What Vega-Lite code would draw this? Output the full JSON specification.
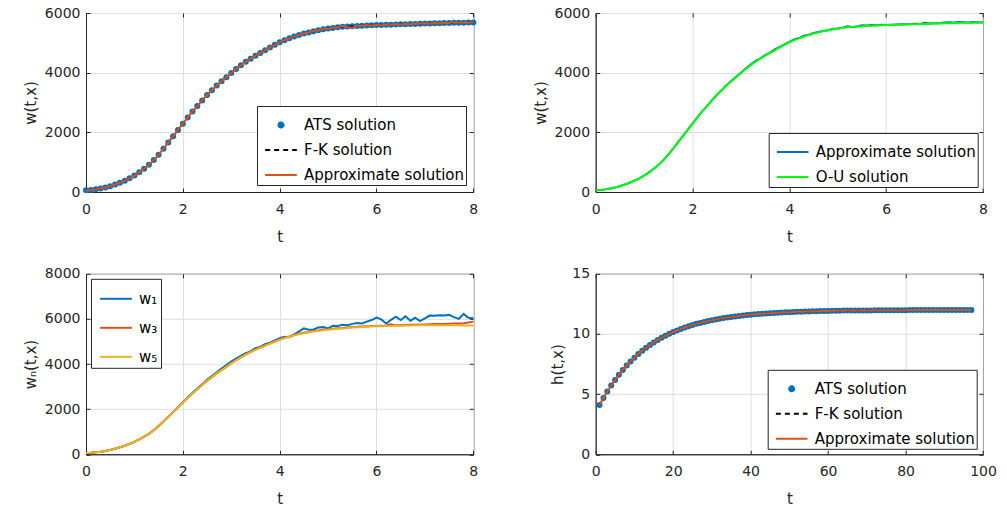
{
"$schema": "https://vega.github.io/schema/vega-lite/v6.json",
"padding": {"left": 22, "top": 5, "right": 5, "bottom": 5},
"background": "white",
"config": {
  "font": "DejaVu Sans",
  "view": {"stroke": "#262626", "strokeWidth": 1},
  "axis": {"domainColor": "#262626", "tickColor": "#262626", "labelColor": "#262626", "titleColor": "#262626", "gridColor": "#dfdfdf", "labelFont": "DejaVu Sans", "labelFontSize": 14, "titleFont": "DejaVu Sans", "titleFontSize": 15, "titleFontWeight": "normal", "tickSize": -4, "labelFlush": false, "labelOverlap": false},
  "axisX": {"labelPadding": 14, "titlePadding": 13},
  "axisY": {"labelPadding": 10, "titlePadding": 6},
  "legend": {"labelFont": "DejaVu Sans", "labelFontSize": 15, "labelColor": "#000000", "strokeColor": "#262626", "fillColor": "white", "padding": 2, "cornerRadius": 0, "symbolSize": 300, "symbolOffset": 5, "labelOffset": 6, "rowPadding": -2, "title": null, "labelLimit": 400}
},
"datasets": {
"w": [
{"t":0,"b":55,"ap":55,"a2":55,"w1":55,"w3":55,"w5":55},
{"t":0.1,"b":68,"ap":68,"a2":68,"w1":68,"w3":68,"w5":68},
{"t":0.2,"b":88,"ap":88,"a2":88,"w1":88,"w3":88,"w5":88},
{"t":0.3,"b":115,"ap":115,"a2":115,"w1":115,"w3":115,"w5":115},
{"t":0.4,"b":150,"ap":150,"a2":150,"w1":150,"w3":150,"w5":150},
{"t":0.5,"b":195,"ap":195,"a2":195,"w1":195,"w3":195,"w5":195},
{"t":0.6,"b":250,"ap":250,"a2":250,"w1":250,"w3":250,"w5":250},
{"t":0.7,"b":310,"ap":310,"a2":310,"w1":310,"w3":310,"w5":310},
{"t":0.8,"b":380,"ap":380,"a2":380,"w1":380,"w3":380,"w5":380},
{"t":0.9,"b":460,"ap":460,"a2":460,"w1":460,"w3":460,"w5":460},
{"t":1.0,"b":550,"ap":550,"a2":550,"w1":550,"w3":550,"w5":550},
{"t":1.1,"b":660,"ap":660,"a2":660,"w1":660,"w3":660,"w5":660},
{"t":1.2,"b":780,"ap":780,"a2":780,"w1":780,"w3":780,"w5":780},
{"t":1.3,"b":910,"ap":910,"a2":910,"w1":910,"w3":910,"w5":910},
{"t":1.4,"b":1070,"ap":1070,"a2":1070,"w1":1070,"w3":1070,"w5":1070},
{"t":1.5,"b":1250,"ap":1250,"a2":1250,"w1":1250,"w3":1250,"w5":1250},
{"t":1.6,"b":1450,"ap":1450,"a2":1450,"w1":1450,"w3":1450,"w5":1450},
{"t":1.7,"b":1660,"ap":1660,"a2":1660,"w1":1660,"w3":1660,"w5":1660},
{"t":1.8,"b":1870,"ap":1870,"a2":1870,"w1":1870,"w3":1870,"w5":1870},
{"t":1.9,"b":2080,"ap":2080,"a2":2080,"w1":2080,"w3":2080,"w5":2080},
{"t":2.0,"b":2290,"ap":2290,"a2":2290,"w1":2300,"w3":2290,"w5":2290},
{"t":2.1,"b":2500,"ap":2500,"a2":2500,"w1":2520,"w3":2500,"w5":2500},
{"t":2.2,"b":2700,"ap":2700,"a2":2700,"w1":2730,"w3":2700,"w5":2700},
{"t":2.3,"b":2880,"ap":2880,"a2":2880,"w1":2920,"w3":2885,"w5":2885},
{"t":2.4,"b":3070,"ap":3070,"a2":3070,"w1":3110,"w3":3075,"w5":3075},
{"t":2.5,"b":3250,"ap":3250,"a2":3250,"w1":3300,"w3":3255,"w5":3255},
{"t":2.6,"b":3410,"ap":3410,"a2":3410,"w1":3470,"w3":3420,"w5":3420},
{"t":2.7,"b":3570,"ap":3570,"a2":3575,"w1":3640,"w3":3585,"w5":3585},
{"t":2.8,"b":3710,"ap":3710,"a2":3720,"w1":3800,"w3":3730,"w5":3730},
{"t":2.9,"b":3850,"ap":3850,"a2":3860,"w1":3960,"w3":3875,"w5":3875},
{"t":3.0,"b":3990,"ap":3990,"a2":4000,"w1":4110,"w3":4035,"w5":4030},
{"t":3.1,"b":4120,"ap":4120,"a2":4140,"w1":4240,"w3":4175,"w5":4165},
{"t":3.2,"b":4250,"ap":4250,"a2":4270,"w1":4360,"w3":4300,"w5":4295},
{"t":3.3,"b":4370,"ap":4370,"a2":4400,"w1":4480,"w3":4430,"w5":4420},
{"t":3.4,"b":4470,"ap":4470,"a2":4480,"w1":4560,"w3":4535,"w5":4525},
{"t":3.5,"b":4570,"ap":4570,"a2":4590,"w1":4700,"w3":4640,"w5":4630},
{"t":3.6,"b":4660,"ap":4660,"a2":4670,"w1":4760,"w3":4735,"w5":4720},
{"t":3.7,"b":4750,"ap":4750,"a2":4780,"w1":4880,"w3":4820,"w5":4810},
{"t":3.8,"b":4845,"ap":4845,"a2":4860,"w1":4950,"w3":4915,"w5":4900},
{"t":3.9,"b":4935,"ap":4935,"a2":4950,"w1":5050,"w3":5000,"w5":4990},
{"t":4.0,"b":5020,"ap":5020,"a2":5030,"w1":5150,"w3":5090,"w5":5080},
{"t":4.1,"b":5090,"ap":5090,"a2":5110,"w1":5210,"w3":5165,"w5":5150},
{"t":4.2,"b":5150,"ap":5150,"a2":5160,"w1":5190,"w3":5220,"w5":5210},
{"t":4.3,"b":5210,"ap":5210,"a2":5235,"w1":5310,"w3":5290,"w5":5270},
{"t":4.4,"b":5265,"ap":5265,"a2":5270,"w1":5450,"w3":5340,"w5":5325},
{"t":4.5,"b":5310,"ap":5315,"a2":5330,"w1":5580,"w3":5390,"w5":5370},
{"t":4.6,"b":5350,"ap":5345,"a2":5360,"w1":5520,"w3":5420,"w5":5405},
{"t":4.7,"b":5390,"ap":5400,"a2":5400,"w1":5530,"w3":5470,"w5":5440},
{"t":4.8,"b":5425,"ap":5420,"a2":5420,"w1":5620,"w3":5490,"w5":5470},
{"t":4.9,"b":5455,"ap":5465,"a2":5470,"w1":5640,"w3":5530,"w5":5495},
{"t":5.0,"b":5480,"ap":5475,"a2":5480,"w1":5580,"w3":5545,"w5":5520},
{"t":5.1,"b":5500,"ap":5510,"a2":5510,"w1":5700,"w3":5570,"w5":5540},
{"t":5.2,"b":5520,"ap":5505,"a2":5555,"w1":5690,"w3":5585,"w5":5560},
{"t":5.3,"b":5535,"ap":5570,"a2":5530,"w1":5740,"w3":5600,"w5":5580},
{"t":5.4,"b":5550,"ap":5530,"a2":5545,"w1":5720,"w3":5625,"w5":5600},
{"t":5.5,"b":5560,"ap":5500,"a2":5590,"w1":5780,"w3":5640,"w5":5615},
{"t":5.6,"b":5568,"ap":5575,"a2":5580,"w1":5820,"w3":5650,"w5":5630},
{"t":5.7,"b":5576,"ap":5565,"a2":5600,"w1":5800,"w3":5665,"w5":5642},
{"t":5.8,"b":5583,"ap":5590,"a2":5590,"w1":5880,"w3":5670,"w5":5652},
{"t":5.9,"b":5589,"ap":5580,"a2":5605,"w1":5950,"w3":5690,"w5":5662},
{"t":6.0,"b":5595,"ap":5600,"a2":5600,"w1":6060,"w3":5690,"w5":5670},
{"t":6.1,"b":5600,"ap":5590,"a2":5610,"w1":5980,"w3":5700,"w5":5678},
{"t":6.2,"b":5605,"ap":5615,"a2":5615,"w1":5800,"w3":5710,"w5":5685},
{"t":6.3,"b":5610,"ap":5605,"a2":5620,"w1":5960,"w3":5760,"w5":5690},
{"t":6.4,"b":5615,"ap":5625,"a2":5625,"w1":6100,"w3":5715,"w5":5695},
{"t":6.5,"b":5620,"ap":5615,"a2":5630,"w1":5950,"w3":5725,"w5":5700},
{"t":6.6,"b":5625,"ap":5640,"a2":5640,"w1":6120,"w3":5735,"w5":5705},
{"t":6.7,"b":5630,"ap":5625,"a2":5635,"w1":5920,"w3":5740,"w5":5710},
{"t":6.8,"b":5635,"ap":5650,"a2":5670,"w1":6050,"w3":5745,"w5":5715},
{"t":6.9,"b":5640,"ap":5640,"a2":5650,"w1":5900,"w3":5750,"w5":5718},
{"t":7.0,"b":5645,"ap":5655,"a2":5660,"w1":6020,"w3":5755,"w5":5722},
{"t":7.1,"b":5649,"ap":5640,"a2":5655,"w1":6150,"w3":5765,"w5":5725},
{"t":7.2,"b":5653,"ap":5665,"a2":5680,"w1":6140,"w3":5770,"w5":5725},
{"t":7.3,"b":5657,"ap":5660,"a2":5690,"w1":6160,"w3":5775,"w5":5722},
{"t":7.4,"b":5661,"ap":5675,"a2":5680,"w1":6150,"w3":5780,"w5":5720},
{"t":7.5,"b":5665,"ap":5665,"a2":5700,"w1":6180,"w3":5790,"w5":5718},
{"t":7.6,"b":5669,"ap":5690,"a2":5690,"w1":6080,"w3":5800,"w5":5716},
{"t":7.7,"b":5673,"ap":5670,"a2":5680,"w1":6000,"w3":5795,"w5":5715},
{"t":7.8,"b":5677,"ap":5680,"a2":5695,"w1":6220,"w3":5810,"w5":5714},
{"t":7.9,"b":5681,"ap":5675,"a2":5685,"w1":6050,"w3":5840,"w5":5713},
{"t":8.0,"b":5685,"ap":5690,"a2":5690,"w1":6030,"w3":5880,"w5":5712}
],
"h": [
{"t":1,"h":4.10},{"t":2,"h":4.68},{"t":3,"h":5.22},{"t":4,"h":5.72},{"t":5,"h":6.18},{"t":6,"h":6.61},{"t":7,"h":7.01},{"t":8,"h":7.38},{"t":9,"h":7.72},{"t":10,"h":8.03},
{"t":11,"h":8.33},{"t":12,"h":8.60},{"t":13,"h":8.85},{"t":14,"h":9.08},{"t":15,"h":9.30},{"t":16,"h":9.50},{"t":17,"h":9.68},{"t":18,"h":9.85},{"t":19,"h":10.01},{"t":20,"h":10.16},
{"t":21,"h":10.29},{"t":22,"h":10.42},{"t":23,"h":10.54},{"t":24,"h":10.64},{"t":25,"h":10.74},{"t":26,"h":10.84},{"t":27,"h":10.92},{"t":28,"h":11.00},{"t":29,"h":11.07},{"t":30,"h":11.14},
{"t":31,"h":11.21},{"t":32,"h":11.26},{"t":33,"h":11.32},{"t":34,"h":11.37},{"t":35,"h":11.42},{"t":36,"h":11.46},{"t":37,"h":11.50},{"t":38,"h":11.54},{"t":39,"h":11.57},{"t":40,"h":11.60},
{"t":41,"h":11.63},{"t":42,"h":11.66},{"t":43,"h":11.68},{"t":44,"h":11.71},{"t":45,"h":11.73},{"t":46,"h":11.75},{"t":47,"h":11.77},{"t":48,"h":11.78},{"t":49,"h":11.80},{"t":50,"h":11.81},
{"t":51,"h":11.83},{"t":52,"h":11.84},{"t":53,"h":11.85},{"t":54,"h":11.86},{"t":55,"h":11.87},{"t":56,"h":11.88},{"t":57,"h":11.89},{"t":58,"h":11.90},{"t":59,"h":11.91},{"t":60,"h":11.91},
{"t":61,"h":11.92},{"t":62,"h":11.93},{"t":63,"h":11.93},{"t":64,"h":11.94},{"t":65,"h":11.94},{"t":66,"h":11.95},{"t":67,"h":11.95},{"t":68,"h":11.95},{"t":69,"h":11.96},{"t":70,"h":11.96},
{"t":71,"h":11.96},{"t":72,"h":11.97},{"t":73,"h":11.97},{"t":74,"h":11.97},{"t":75,"h":11.97},{"t":76,"h":11.98},{"t":77,"h":11.98},{"t":78,"h":11.98},{"t":79,"h":11.98},{"t":80,"h":11.98},
{"t":81,"h":11.99},{"t":82,"h":11.99},{"t":83,"h":11.99},{"t":84,"h":11.99},{"t":85,"h":11.99},{"t":86,"h":11.99},{"t":87,"h":11.99},{"t":88,"h":11.99},{"t":89,"h":12.00},{"t":90,"h":12.00},
{"t":91,"h":12.00},{"t":92,"h":12.00},{"t":93,"h":12.00},{"t":94,"h":12.00},{"t":95,"h":12.00},{"t":96,"h":12.00},{"t":97,"h":12.00}
]
},
"columns": 2,
"spacing": {"row": 81.8, "column": 121.7},
"bounds": "flush",
"resolve": {"scale": {"color": "independent"}, "legend": {"color": "independent"}},
"concat": [
 {"width": 387.3, "height": 179, "data": {"name": "w"},
  "resolve": {"axis": {"x": "independent", "y": "independent"}},
  "layer": [
   {"encoding": {
     "x": {"field": "t", "type": "quantitative", "title": "t", "scale": {"domain": [0, 8], "nice": false}, "axis": {"values": [0,2,4,6,8], "format": "d"}},
     "y": {"type": "quantitative", "title": "w(t,x)", "scale": {"domain": [0, 6000], "nice": false}, "axis": {"values": [0,2000,4000,6000], "format": "d"}},
     "color": {"scale": {"domain": ["ATS solution", "F-K solution", "Approximate solution"], "range": ["#0072BD", "#000000", "#D95319"]},
       "legend": {"orient": "bottom-right", "offset": 7, "symbolType": "stroke", "encode": {"symbols": {"update": {
         "shape": {"signal": "datum.value === 'ATS solution' ? 'circle' : 'stroke'"},
         "size": {"signal": "datum.value === 'ATS solution' ? 25 : 1000"},
         "fill": {"signal": "datum.value === 'ATS solution' ? '#0072BD' : 'transparent'"},
         "stroke": {"signal": "datum.value === 'ATS solution' ? 'transparent' : (datum.value === 'F-K solution' ? '#000000' : '#D95319')"},
         "strokeDash": {"signal": "datum.value === 'F-K solution' ? [5,4] : [1,0]"},
         "strokeWidth": {"value": 2}, "opacity": {"value": 1}}}}}}
    },
    "layer": [
     {"mark": {"type": "point", "filled": true, "size": 36, "opacity": 1}, "encoding": {"y": {"field": "b", "type": "quantitative"}, "color": {"datum": "ATS solution"}}},
     {"mark": {"type": "line", "strokeDash": [6,4], "strokeWidth": 1.5}, "encoding": {"y": {"field": "b", "type": "quantitative"}, "color": {"datum": "F-K solution"}}},
     {"mark": {"type": "line", "strokeWidth": 2}, "encoding": {"y": {"field": "ap", "type": "quantitative"}, "color": {"datum": "Approximate solution"}}}
    ]},
   {"mark": {"type": "point", "opacity": 0}, "encoding": {
     "x": {"field": "t", "type": "quantitative", "axis": {"orient": "top", "values": [0,2,4,6,8], "labels": false, "title": null, "grid": false, "domain": false}},
     "y": {"field": "b", "type": "quantitative", "axis": {"orient": "right", "values": [0,2000,4000,6000], "labels": false, "title": null, "grid": false, "domain": false}}}}
  ]},
 {"width": 387.3, "height": 179, "data": {"name": "w"},
  "resolve": {"axis": {"x": "independent", "y": "independent"}},
  "layer": [
   {"encoding": {
     "x": {"field": "t", "type": "quantitative", "title": "t", "scale": {"domain": [0, 8], "nice": false}, "axis": {"values": [0,2,4,6,8], "format": "d"}},
     "y": {"type": "quantitative", "title": "w(t,x)", "scale": {"domain": [0, 6000], "nice": false}, "axis": {"values": [0,2000,4000,6000], "format": "d"}},
     "color": {"scale": {"domain": ["Approximate solution", "O-U solution"], "range": ["#0072BD", "#00FF00"]},
       "legend": {"orient": "bottom-right", "offset": 5, "rowPadding": 0, "symbolType": "stroke", "encode": {"symbols": {"update": {
         "shape": {"value": "stroke"}, "size": {"value": 1000}, "fill": {"value": "transparent"},
         "stroke": {"signal": "datum.value === 'O-U solution' ? '#00FF00' : '#0072BD'"},
         "strokeWidth": {"value": 2}, "opacity": {"value": 1}}}}}}
    },
    "layer": [
     {"mark": {"type": "line", "strokeWidth": 2}, "encoding": {"y": {"field": "a2", "type": "quantitative"}, "color": {"datum": "Approximate solution"}}},
     {"mark": {"type": "line", "strokeWidth": 2}, "encoding": {"y": {"field": "b", "type": "quantitative"}, "color": {"datum": "O-U solution"}}}
    ]},
   {"mark": {"type": "point", "opacity": 0}, "encoding": {
     "x": {"field": "t", "type": "quantitative", "axis": {"orient": "top", "values": [0,2,4,6,8], "labels": false, "title": null, "grid": false, "domain": false}},
     "y": {"field": "b", "type": "quantitative", "axis": {"orient": "right", "values": [0,2000,4000,6000], "labels": false, "title": null, "grid": false, "domain": false}}}}
  ]},
 {"width": 387.3, "height": 180.5, "data": {"name": "w"},
  "resolve": {"axis": {"x": "independent", "y": "independent"}},
  "layer": [
   {"encoding": {
     "x": {"field": "t", "type": "quantitative", "title": "t", "scale": {"domain": [0, 8], "nice": false}, "axis": {"values": [0,2,4,6,8], "format": "d"}},
     "y": {"type": "quantitative", "title": "wₙ(t,x)", "scale": {"domain": [0, 8000], "nice": false}, "axis": {"values": [0,2000,4000,6000,8000], "format": "d"}},
     "color": {"scale": {"domain": ["w₁", "w₃", "w₅"], "range": ["#0072BD", "#D95319", "#EDB120"]},
       "legend": {"orient": "top-left", "offset": 5, "rowPadding": 4, "padding": 3, "symbolType": "stroke", "encode": {"symbols": {"update": {
         "shape": {"value": "stroke"}, "size": {"value": 1000}, "fill": {"value": "transparent"},
         "stroke": {"signal": "datum.value === 'w₁' ? '#0072BD' : (datum.value === 'w₃' ? '#D95319' : '#EDB120')"},
         "strokeWidth": {"value": 2}, "opacity": {"value": 1}}}}}}
    },
    "layer": [
     {"mark": {"type": "line", "strokeWidth": 2}, "encoding": {"y": {"field": "w1", "type": "quantitative"}, "color": {"datum": "w₁"}}},
     {"mark": {"type": "line", "strokeWidth": 2}, "encoding": {"y": {"field": "w3", "type": "quantitative"}, "color": {"datum": "w₃"}}},
     {"mark": {"type": "line", "strokeWidth": 2}, "encoding": {"y": {"field": "w5", "type": "quantitative"}, "color": {"datum": "w₅"}}}
    ]},
   {"mark": {"type": "point", "opacity": 0}, "encoding": {
     "x": {"field": "t", "type": "quantitative", "axis": {"orient": "top", "values": [0,2,4,6,8], "labels": false, "title": null, "grid": false, "domain": false}},
     "y": {"field": "w1", "type": "quantitative", "axis": {"orient": "right", "values": [0,2000,4000,6000,8000], "labels": false, "title": null, "grid": false, "domain": false}}}}
  ]},
 {"width": 387.3, "height": 180.5, "data": {"name": "h"},
  "resolve": {"axis": {"x": "independent", "y": "independent"}},
  "layer": [
   {"encoding": {
     "x": {"field": "t", "type": "quantitative", "title": "t", "scale": {"domain": [0, 100], "nice": false}, "axis": {"values": [0,20,40,60,80,100], "format": "d"}},
     "y": {"field": "h", "type": "quantitative", "title": "h(t,x)", "scale": {"domain": [0, 15], "nice": false}, "axis": {"values": [0,5,10,15], "format": "d"}},
     "color": {"scale": {"domain": ["ATS solution", "F-K solution", "Approximate solution"], "range": ["#0072BD", "#000000", "#D95319"]},
       "legend": {"orient": "bottom-right", "offset": 6, "symbolType": "stroke", "encode": {"symbols": {"update": {
         "shape": {"signal": "datum.value === 'ATS solution' ? 'circle' : 'stroke'"},
         "size": {"signal": "datum.value === 'ATS solution' ? 25 : 1000"},
         "fill": {"signal": "datum.value === 'ATS solution' ? '#0072BD' : 'transparent'"},
         "stroke": {"signal": "datum.value === 'ATS solution' ? 'transparent' : (datum.value === 'F-K solution' ? '#000000' : '#D95319')"},
         "strokeDash": {"signal": "datum.value === 'F-K solution' ? [5,4] : [1,0]"},
         "strokeWidth": {"value": 2}, "opacity": {"value": 1}}}}}}
    },
    "layer": [
     {"mark": {"type": "point", "filled": true, "size": 36, "opacity": 1}, "encoding": {"color": {"datum": "ATS solution"}}},
     {"mark": {"type": "line", "strokeDash": [6,4], "strokeWidth": 1.5}, "encoding": {"color": {"datum": "F-K solution"}}},
     {"mark": {"type": "line", "strokeWidth": 2}, "encoding": {"color": {"datum": "Approximate solution"}}}
    ]},
   {"mark": {"type": "point", "opacity": 0}, "encoding": {
     "x": {"field": "t", "type": "quantitative", "axis": {"orient": "top", "values": [0,20,40,60,80,100], "labels": false, "title": null, "grid": false, "domain": false}},
     "y": {"field": "h", "type": "quantitative", "axis": {"orient": "right", "values": [0,5,10,15], "labels": false, "title": null, "grid": false, "domain": false}}}}
  ]}
]
}
